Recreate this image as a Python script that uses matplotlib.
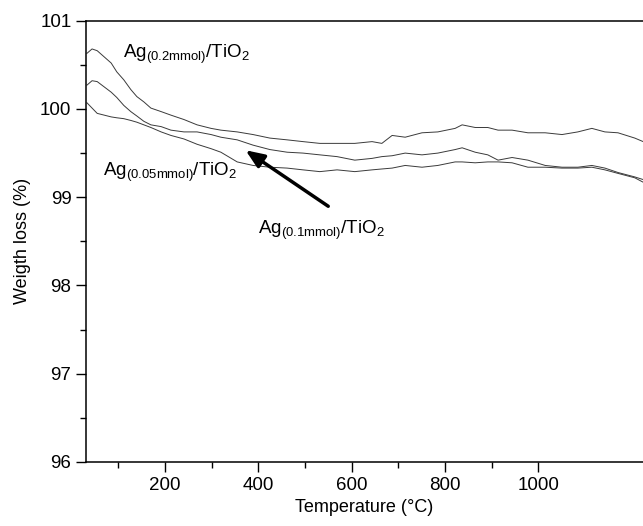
import matplotlib
matplotlib.use("Agg")
import matplotlib.pyplot as plt
from matplotlib.ticker import MultipleLocator, FixedLocator

plt.rcParams['font.family'] = ['Liberation Sans', 'DejaVu Sans']
plt.rcParams['mathtext.default'] = 'regular'

# temperature grid (deg C)
temp = [33, 44, 55, 70, 85, 97, 112, 127, 140, 155, 170, 192, 213, 241, 269, 299, 320,
        355, 389, 425, 462, 496, 532, 569, 607, 644, 665, 687, 715, 751, 785, 822, 837,
        865, 892, 914, 944, 978, 1015, 1051, 1085, 1115, 1143, 1171, 1207, 1225]

# Ag(0.2mmol)/TiO2
w_02 = [100.63, 100.68, 100.66, 100.59, 100.52, 100.42, 100.33, 100.22, 100.14, 100.08,
        100.01, 99.97, 99.93, 99.88, 99.82, 99.78, 99.76, 99.74, 99.71, 99.67, 99.65,
        99.63, 99.61, 99.61, 99.61, 99.63, 99.61, 99.70, 99.68, 99.73, 99.74, 99.78,
        99.82, 99.79, 99.79, 99.76, 99.76, 99.73, 99.73, 99.71, 99.74, 99.78, 99.74,
        99.73, 99.67, 99.63]

# Ag(0.1mmol)/TiO2
w_01 = [100.27, 100.32, 100.31, 100.25, 100.19, 100.13, 100.04, 99.97, 99.92, 99.86,
        99.82, 99.80, 99.76, 99.74, 99.74, 99.71, 99.68, 99.65, 99.59, 99.54, 99.51,
        99.50, 99.48, 99.46, 99.42, 99.44, 99.46, 99.47, 99.50, 99.48, 99.50, 99.54,
        99.56, 99.51, 99.48, 99.42, 99.45, 99.42, 99.36, 99.34, 99.34, 99.36, 99.33,
        99.28, 99.23, 99.20]

# Ag(0.05mmol)/TiO2
w_005 = [100.07, 100.01, 99.95, 99.93, 99.91, 99.90, 99.89, 99.87, 99.85, 99.82,
         99.79, 99.74, 99.70, 99.66, 99.60, 99.55, 99.51, 99.40, 99.36, 99.34, 99.33,
         99.31, 99.29, 99.31, 99.29, 99.31, 99.32, 99.33, 99.36, 99.34, 99.36, 99.40,
         99.40, 99.39, 99.40, 99.40, 99.39, 99.34, 99.34, 99.33, 99.33, 99.34, 99.31,
         99.27, 99.22, 99.17]

x_major = [200, 400, 600, 800, 1000]
x_minor = [100, 300, 500, 700, 900]

fig = plt.figure(figsize=(6.43, 5.26), dpi=100)
ax = fig.add_axes([86/643, 64/526, 1 - 86/643, (462 - 20.7)/526])

for w in (w_02, w_01, w_005):
    ax.plot(temp, w, color='#3a3a3a', lw=0.7)

ax.set_xlim(31, 1224.6)
ax.set_ylim(96, 101)
ax.xaxis.set_major_locator(FixedLocator(x_major))
ax.xaxis.set_minor_locator(FixedLocator(x_minor))
ax.yaxis.set_major_locator(MultipleLocator(1))
ax.yaxis.set_minor_locator(MultipleLocator(0.5))
ax.tick_params(which='major', direction='out', length=7, width=1, labelsize=13.5)
ax.tick_params(which='minor', direction='out', length=4, width=1)
ax.spines['right'].set_visible(False)
for s in ('left', 'bottom', 'top'):
    ax.spines[s].set_linewidth(1.1)

ax.set_xlabel('Temperature (°C)', fontsize=13, labelpad=4)
ax.set_ylabel('Weigth loss (%)', fontsize=13)
ax.yaxis.set_label_coords(-0.098, 0.5)

ax.text(111, 100.62, 'Ag$_{(0.2mmol)}$/TiO$_2$', fontsize=13.5, va='center')
ax.text(67, 99.28, 'Ag$_{(0.05mmol)}$/TiO$_2$', fontsize=13.5, va='center')
ax.text(400, 98.62, 'Ag$_{(0.1mmol)}$/TiO$_2$', fontsize=13.5, va='center')
ax.annotate('', xy=(368, 99.55), xytext=(555, 98.88),
            arrowprops=dict(arrowstyle='-|>,head_length=1.1,head_width=0.45',
                            color='black', lw=2.5))

fig.savefig('out.png', dpi=100)
